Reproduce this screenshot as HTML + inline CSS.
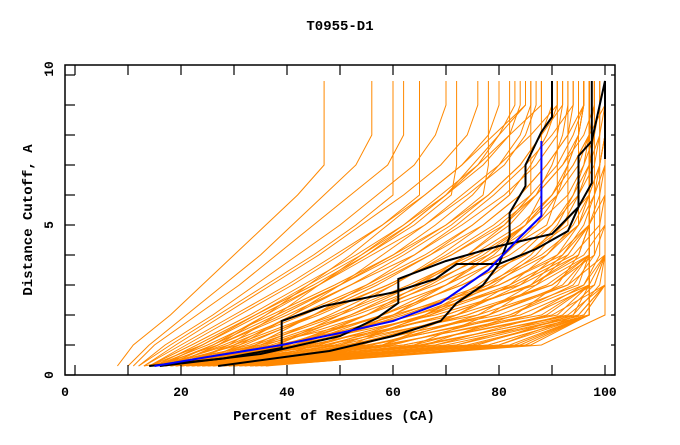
<!DOCTYPE html>
<html><head><meta charset="utf-8"><style>
body{margin:0;background:#fff;width:680px;height:440px;overflow:hidden}
svg text{font-family:"Liberation Mono",monospace;font-weight:bold;fill:#000}
</style></head><body>
<svg id="chart" width="680" height="440" viewBox="0 0 680 440" xmlns="http://www.w3.org/2000/svg">
<text x="340" y="30" font-size="14" text-anchor="middle">T0955-D1</text>
<text x="334" y="420" font-size="14" text-anchor="middle">Percent of Residues (CA)</text>
<text x="0" y="0" font-size="14" text-anchor="middle" transform="translate(32,220) rotate(-90)">Distance Cutoff, A</text>
<g id="orange"></g>
<g id="dark"></g>
<rect x="65" y="65" width="550" height="310" fill="none" stroke="#000" stroke-width="1.5"/>
<g id="ticks"></g>
</svg>
<script>
const levels = [0.3,1,2,3,4,5,6,7,8,9];
const topCutoff = 9.8;
const orangeModels = [
[8,11,18,24,30,36,42,47,47,47],
[10,14,21,28,35,41,47,53,56,56],
[11,15,23,31,38,45,52,59,62,62],
[12,17,26,34,42,50,57,64,68,70],
[13,19,28,37,46,54,62,69,74,76],
[13,20,30,40,49,58,66,73,78,80],
[14,22,33,43,53,62,70,77,82,84],
[14,24,35,46,56,66,74,81,85,87],
[15,25,37,49,60,70,78,84,88,90],
[15,27,40,52,64,73,81,87,91,92],
[16,29,43,56,67,77,84,89,93,94],
[16,31,46,59,71,80,87,92,95,96],
[17,33,49,63,75,84,90,94,97,97],
[17,35,52,66,78,87,93,96,98,98],
[18,37,55,70,82,90,95,98,99,99],
[18,39,58,73,85,92,97,99,100,100],
[19,41,61,77,88,95,98,100,100,100],
[19,43,64,80,91,97,100,100,100,100],
[20,45,67,83,94,99,100,100,100,100],
[20,47,70,86,96,100,100,100,100,100],
[21,50,74,90,98,100,100,100,100,100],
[21,53,78,93,100,100,100,100,100,100],
[22,56,82,96,100,100,100,100,100,100],
[22,59,86,98,100,100,100,100,100,100],
[23,62,90,100,100,100,100,100,100,100],
[23,66,93,100,100,100,100,100,100,100],
[24,70,96,100,100,100,100,100,100,100],
[24,74,97,97,97,97,97,97,97,97],
[25,78,97,97,97,97,97,97,97,97],
[26,82,97,97,97,97,97,97,97,97],
[12,18,27,36,45,53,60,60,60,60],
[14,21,31,41,50,58,65,65,65,65],
[15,23,34,45,55,64,71,72,72,72],
[16,26,38,50,61,70,77,78,78,78],
[17,28,42,55,66,75,82,82,82,82],
[18,30,45,59,71,81,86,86,86,86],
[19,34,50,64,76,85,88,88,88,88],
[20,36,53,68,80,89,91,91,91,91],
[21,40,58,73,85,93,93,93,93,93],
[22,43,62,78,89,95,95,95,95,95],
[23,46,66,82,93,97,97,97,97,97],
[24,49,70,86,95,97,97,97,97,97],
[25,52,74,89,97,97,97,97,97,97],
[26,56,78,92,97,97,97,97,97,97],
[27,60,82,94,98,98,98,98,98,98],
[28,64,86,96,99,99,99,99,99,99],
[29,68,89,97,100,100,100,100,100,100],
[30,72,92,98,100,100,100,100,100,100],
[31,76,94,99,100,100,100,100,100,100],
[32,80,95,100,100,100,100,100,100,100],
[33,84,97,97,97,97,97,97,97,97],
[34,86,97,97,97,97,97,97,97,97],
[35,88,100,100,100,100,100,100,100,100],
[16,24,34,44,54,63,70,76,80,83],
[18,27,39,50,60,68,75,80,84,86],
[20,32,45,57,67,75,82,86,89,91],
[22,38,52,64,74,82,87,90,92,93],
[24,44,60,72,81,87,91,93,95,96],
[26,50,67,79,87,92,95,97,98,99],
[28,58,76,86,92,96,98,99,100,100],
[30,66,83,91,95,97,97,97,97,97],
[20,54,72,84,91,95,97,97,97,97],
[18,48,66,78,86,91,94,96,97,97],
[16,42,58,70,79,85,90,93,95,96],
[13,35,60,80,92,97,97,97,97,97],
[14,38,64,84,95,97,97,97,97,97],
[15,41,68,87,97,97,97,97,97,97],
[16,44,72,90,97,97,97,97,97,97],
[17,47,76,93,97,97,97,97,97,97],
[18,51,80,95,97,97,97,97,97,97],
[19,55,84,97,97,97,97,97,97,97],
[20,58,88,97,97,97,97,97,97,97],
[21,62,91,97,97,97,97,97,97,97],
[22,65,94,97,97,97,97,97,97,97],
[25,68,95,100,100,100,100,100,100,100],
[27,72,96,100,100,100,100,100,100,100],
[28,75,97,97,97,97,97,97,97,97],
[29,78,97,97,97,97,97,97,97,97],
[31,80,97,97,97,97,97,97,97,97],
[33,83,97,97,97,97,97,97,97,97],
[36,85,97,97,97,97,97,97,97,97],
[30,46,60,70,78,85,90,94,97,100],
[32,52,66,76,84,90,94,97,99,100],
[34,58,72,82,89,94,97,99,100,100],
[36,64,78,87,93,97,99,100,100,100],
[28,42,55,65,74,81,87,92,96,98],
[26,38,50,60,69,77,84,89,93,96],
[24,34,45,55,64,72,79,85,90,94],
[22,31,41,50,58,66,73,80,86,91],
[20,29,38,46,54,62,69,76,82,88],
[18,27,36,44,52,59,66,73,79,85],
[17,26,36,46,55,63,70,75,80,85],
[19,30,41,52,62,71,78,84,88,92],
[21,35,48,60,70,79,86,91,94,96],
[23,40,55,67,77,85,91,95,97,98]
];
const blueModel = [[15,0.3],[25,0.6],[39,1.0],[50,1.4],[60,1.8],[69,2.4],[78,3.5],[84,4.6],[88,5.3],[88,7.8]];
const blackModelA = [[14,0.3],[28,0.55],[39,0.9],[39,1.8],[47,2.3],[60,2.75],[68,3.2],[72,3.7],[80,3.7],[82,4.6],[82,5.4],[85,6.3],[85,7.0],[88,8.1],[90,8.6],[90,9.8]];
const blackModelB = [[16,0.3],[35,0.7],[50,1.3],[57,1.9],[61,2.4],[61,3.2],[70,3.8],[80,4.3],[90,4.7],[95,5.6],[97.5,6.4],[97.5,9.8]];
const blackModelC = [[27,0.3],[48,0.8],[60,1.3],[69,1.8],[72,2.4],[77,3.0],[80,3.7],[87,4.2],[93,4.8],[95,5.6],[95,7.3],[97.5,7.8],[100,9.8],[100,7.2]];
const xTicks = [0,10,20,30,40,50,60,70,80,90,100];
const xLabels = [0,20,40,60,80,100];
const yTicks = [0,1,2,3,4,5,6,7,8,9,10];
const yLabels = [0,5,10];

const NS='http://www.w3.org/2000/svg';
const xs = p => 75 + 5.3*p;
const ys = d => 375 - 30*d;
function mk(tag, parent){const e=document.createElementNS(NS,tag);parent.appendChild(e);return e;}
const og=document.getElementById('orange');
orangeModels.forEach(row=>{
  const pts=row.map((p,k)=>xs(p).toFixed(1)+','+ys(levels[k]).toFixed(1));
  pts.push(xs(row[row.length-1]).toFixed(1)+','+ys(topCutoff).toFixed(1));
  const pl=mk('polyline',og);
  
  
  pl.setAttribute('points',pts.join(' '));
  pl.setAttribute('fill','none');pl.setAttribute('stroke','#ff8800');pl.setAttribute('stroke-width','1');
});
const dg=document.getElementById('dark');
[[blackModelA,'#000','black-model-a'],[blackModelB,'#000','black-model-b'],[blackModelC,'#000','black-model-c'],[blueModel,'#0000ff','blue-model']].forEach(([m,c,n])=>{
  const pl=mk('polyline',dg);
  
  
  pl.setAttribute('points',m.map(q=>xs(q[0]).toFixed(1)+','+ys(q[1]).toFixed(1)).join(' '));
  pl.setAttribute('fill','none');pl.setAttribute('stroke',c);pl.setAttribute('stroke-width','2');
});
const tg=document.getElementById('ticks');
function line(x1,y1,x2,y2,name){const l=mk('line',tg);
  
  
  l.setAttribute('x1',x1);l.setAttribute('y1',y1);l.setAttribute('x2',x2);l.setAttribute('y2',y2);l.setAttribute('stroke','#000');l.setAttribute('stroke-width','1.2');}
xTicks.forEach(v=>{const x=xs(v);line(x,375,x,365,'x-tick');line(x,65,x,75,'x-tick-top');});
yTicks.forEach(v=>{const y=ys(v);line(65,y,75,y,'y-tick');line(615,y,611,y,'y-tick-right');});
xLabels.forEach(v=>{const t=mk('text',tg);
  
  
  t.setAttribute('x',v===0?65:xs(v));t.setAttribute('y',396);t.setAttribute('font-size','13');t.setAttribute('text-anchor','middle');t.textContent=v;});
yLabels.forEach(v=>{const t=mk('text',tg);
  
  
  const y=v===10?69:(v===0?375:ys(v));
  t.setAttribute('transform','translate(53,'+y+') rotate(-90)');t.setAttribute('font-size','13');t.setAttribute('text-anchor','middle');t.textContent=v;});
</script>
</body></html>
